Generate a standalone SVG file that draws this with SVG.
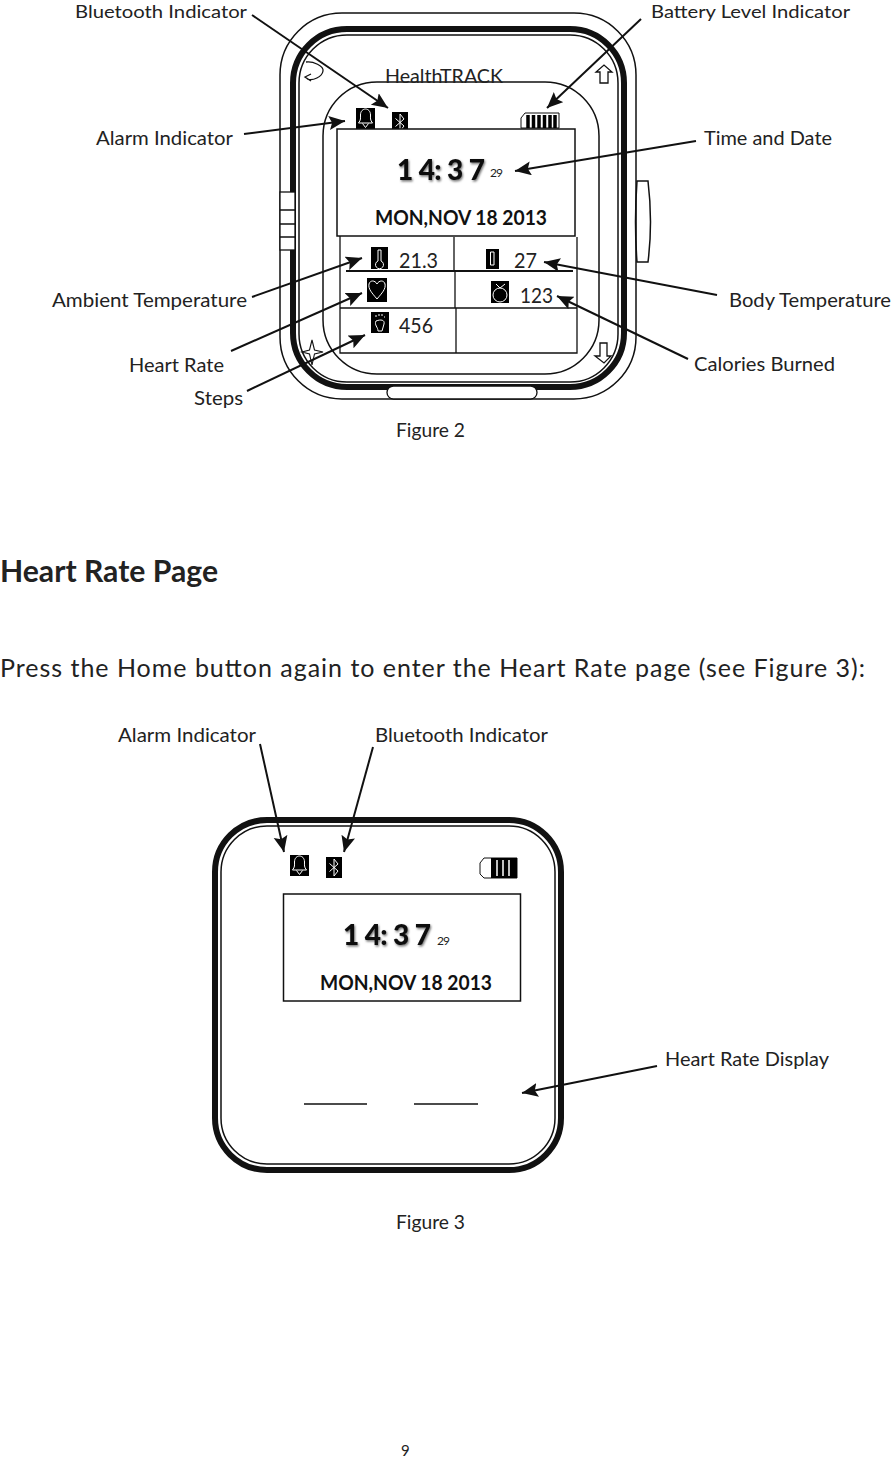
<svg xmlns="http://www.w3.org/2000/svg" width="892" height="1459" viewBox="0 0 892 1459">
<style>
text{font-family:"Lato","Carlito","Open Sans",sans-serif;fill:#222}
.l{font-size:20px}
.e{font-size:18px}
.v{font-size:22px}
.h{font-size:30px;font-weight:700}
.b{font-size:20px}
.d{font-size:20.5px;font-weight:700;fill:#111}
.t{font-size:28px;font-weight:900;fill:#111;filter:url(#sh)}
.s{font-size:12px}
.o{fill:none;stroke:#111}
.w{fill:none;stroke:#fff;stroke-width:1}
.c{stroke:#111;stroke-width:2;fill:none;marker-end:url(#a)}
</style>
<defs>
<marker id="a" markerUnits="userSpaceOnUse" markerWidth="18" markerHeight="16" refX="16" refY="7" orient="auto"><path d="M0 0L16 7L0 14L3 7Z" fill="#111"/></marker>
<filter id="sh" x="-10%" y="-20%" width="125%" height="150%"><feDropShadow dx="1" dy="1.5" stdDeviation="1" flood-color="#000" flood-opacity=".55"/></filter>
<g id="bell"><rect width="19" height="21" fill="#000"/><path class="w" d="M2.500 15C5 12 4.500 10 4.500 7C4.500 3 7 1 9.500 1C12 1 14.500 3 14.500 7C14.500 10 14 12 16.500 15H2.500ZM6.500 15.500L9.500 19.500L12.500 15.500"/></g>
<g id="bt"><rect width="16" height="21" fill="#000"/><path class="w" d="M3.500 6.500L12 14L8 19V2L12 7L3.500 14.500" stroke-width="1.300"/></g>
</defs>

<g id="watch">
<rect class="o" x="280" y="13" width="356" height="386" rx="62" stroke-width="1.500"/>
<rect class="o" x="293" y="29" width="331" height="358" rx="54" stroke-width="6"/>
<rect class="o" x="299" y="35" width="319" height="347" rx="48" stroke-width="1.500"/>
<rect class="o" x="323" y="82" width="276" height="292" rx="54" stroke-width="1.500"/>
<rect x="280" y="192" width="15" height="58" fill="#fff" stroke="#111" stroke-width="1.300"/>
<path class="o" stroke-width="1.300" d="M280 210H295M280 224H295M280 237H295"/>
<path class="o" stroke-width="1.500" d="M637 181H648Q653 222 648 262H637Q634 222 637 181Z"/>
<rect x="387" y="386" width="150" height="13" rx="6.500" fill="#fff" stroke="#111" stroke-width="1.300"/>
<path class="o" stroke-width="1.300" d="M306 62C313 61 324 66 323 71C322 77 313 81 307 79M311 74L305 77L311 81"/>
<path class="o" stroke-width="1.300" d="M600 83V72H596L604 65L612 72H608V83Z"/>
<path class="o" stroke-width="1.300" d="M600 343V356H595L604 363L611 356H607V343Z"/>
<path class="o" stroke-width="1.100" d="M312 340L314.500 350L323 352L314.500 354L312 365L309.500 354L302 352L309.500 350Z"/>
<text x="385" y="83" class="b" textLength="118" lengthAdjust="spacingAndGlyphs">HealthTRACK</text>
</g>

<g id="watch-icons">
<use href="#bell" x="356" y="108"/>
<use href="#bt" x="392" y="112"/>
<path d="M521 118L525 113H559V128H521Z" fill="#fff" stroke="#111"/>
<path d="M528 115V128M533.500 115V128M539 115V128M544.500 115V128M550 115V128M555 115V128" stroke="#000" stroke-width="3.500"/>
</g>

<g id="watch-display">
<rect x="337" y="129" width="238" height="107" stroke="#111" stroke-width="1.500" fill="#fff"/>
<text x="397" y="180" class="t" textLength="88">1 4: 3 7</text>
<text x="490" y="177" class="s" textLength="13">29</text>
<text x="375" y="225" class="d" textLength="172" lengthAdjust="spacingAndGlyphs">MON,NOV 18 2013</text>
</g>

<g id="watch-grid">
<path class="o" stroke-width="1.300" d="M340 236V353H577V237M454 237V271M455 272V308M456 308V353"/>
<path class="o" stroke-width="2" d="M346 271H573"/>
<path class="o" stroke-width="1.500" d="M340 308H577"/>
<rect x="371" y="247" width="17" height="22" fill="#000"/>
<path class="w" d="M378 250H381V261A4 4 0 1 1 378 261Z"/>
<rect x="486" y="249" width="13" height="20" fill="#000"/>
<path class="w" d="M490.500 252H494V265H490.500Z"/>
<rect x="367" y="278" width="20" height="24" fill="#000"/>
<path class="w" d="M377 299C372 293 368 289 369 284C370 280 375 280 377 284C379 280 384 280 385 284C386 289 382 293 377 299Z"/>
<rect x="491" y="281" width="18" height="22" fill="#000"/>
<circle cx="500" cy="295" r="7" fill="none" stroke="#fff"/>
<path class="w" d="M500 288L496 284M500 288L505 284"/>
<rect x="371" y="312" width="18" height="21" fill="#000"/>
<path class="w" d="M376 321C381 319 385 320 384 324L382 331H378C378 327 374 325 376 321ZM375 316H377M378 315H380M381 315H383M384 317H385"/>
<text x="399" y="268" class="v" textLength="39" lengthAdjust="spacingAndGlyphs">21.3</text>
<text x="514" y="268" class="v" textLength="23" lengthAdjust="spacingAndGlyphs">27</text>
<text x="520" y="303" class="v" textLength="33" lengthAdjust="spacingAndGlyphs">123</text>
<text x="399" y="333" class="v" textLength="34" lengthAdjust="spacingAndGlyphs">456</text>
</g>

<g id="connectors">
<path class="c" d="M252 15L388 108"/>
<path class="c" d="M641 19L547 108"/>
<path class="c" d="M244 134L345 121"/>
<path class="c" d="M696 141L515 171"/>
<path class="c" d="M252 297L362 258"/>
<path class="c" d="M231 351L362 293"/>
<path class="c" d="M247 391L365 335"/>
<path class="c" d="M717 295L544 262"/>
<path class="c" d="M688 359L557 296"/>
<path class="c" d="M260 744L284 852"/>
<path class="c" d="M373 747L344 852"/>
<path class="c" d="M657 1066L522 1093"/>
</g>

<g id="labels">
<text x="75" y="18" class="e" textLength="172" lengthAdjust="spacingAndGlyphs">Bluetooth Indicator</text>
<text x="651" y="18" class="e" textLength="199" lengthAdjust="spacingAndGlyphs">Battery Level Indicator</text>
<text x="96" y="145" class="l" textLength="137" lengthAdjust="spacingAndGlyphs">Alarm Indicator</text>
<text x="704" y="145" class="l" textLength="128" lengthAdjust="spacingAndGlyphs">Time and Date</text>
<text x="52" y="307" class="l" textLength="195" lengthAdjust="spacingAndGlyphs">Ambient Temperature</text>
<text x="729" y="307" class="l" textLength="162" lengthAdjust="spacingAndGlyphs">Body Temperature</text>
<text x="129" y="372" class="l" textLength="95" lengthAdjust="spacingAndGlyphs">Heart Rate</text>
<text x="694" y="371" class="l" textLength="141" lengthAdjust="spacingAndGlyphs">Calories Burned</text>
<text x="194" y="405" class="l" textLength="49" lengthAdjust="spacingAndGlyphs">Steps</text>
<text x="396" y="437" class="l" textLength="69" lengthAdjust="spacingAndGlyphs">Figure 2</text>
<text x="0" y="582" class="h" textLength="218" lengthAdjust="spacingAndGlyphs">Heart Rate Page</text>
<text x="0" y="677" style="font-size:25px" textLength="865">Press the Home button again to enter the Heart Rate page (see Figure 3):</text>
<text x="118" y="742" class="l" textLength="138" lengthAdjust="spacingAndGlyphs">Alarm Indicator</text>
<text x="375" y="742" class="l" textLength="173" lengthAdjust="spacingAndGlyphs">Bluetooth Indicator</text>
<text x="665" y="1066" class="l" textLength="164" lengthAdjust="spacingAndGlyphs">Heart Rate Display</text>
<text x="396" y="1229" class="l" textLength="69" lengthAdjust="spacingAndGlyphs">Figure 3</text>
<text x="401" y="1456" style="font-size:15px">9</text>
</g>

<g id="device-fig3">
<rect class="o" x="215" y="820" width="346" height="350" rx="52" stroke-width="6"/>
<rect class="o" x="221" y="826" width="334" height="338" rx="46" stroke-width="1.500"/>
<use href="#bell" x="290" y="855"/>
<use href="#bt" x="326" y="857"/>
<path d="M480 863L484 858H517V878H484L480 874Z" fill="#fff" stroke="#111"/>
<path d="M491 858H517V878H491Z" fill="#000"/>
<path d="M497 860V876M503 860V876M509 860V876" stroke="#fff" stroke-width="1.500"/>
<rect class="o" x="283.500" y="894" width="237" height="107" stroke-width="1.500"/>
<text x="343" y="945" class="t" textLength="88">1 4: 3 7</text>
<text x="437" y="945" class="s" textLength="13">29</text>
<text x="320" y="990" class="d" textLength="172" lengthAdjust="spacingAndGlyphs">MON,NOV 18 2013</text>
<path class="o" stroke-width="1.500" d="M304 1104H367M414 1104H478"/>
</g>
</svg>
